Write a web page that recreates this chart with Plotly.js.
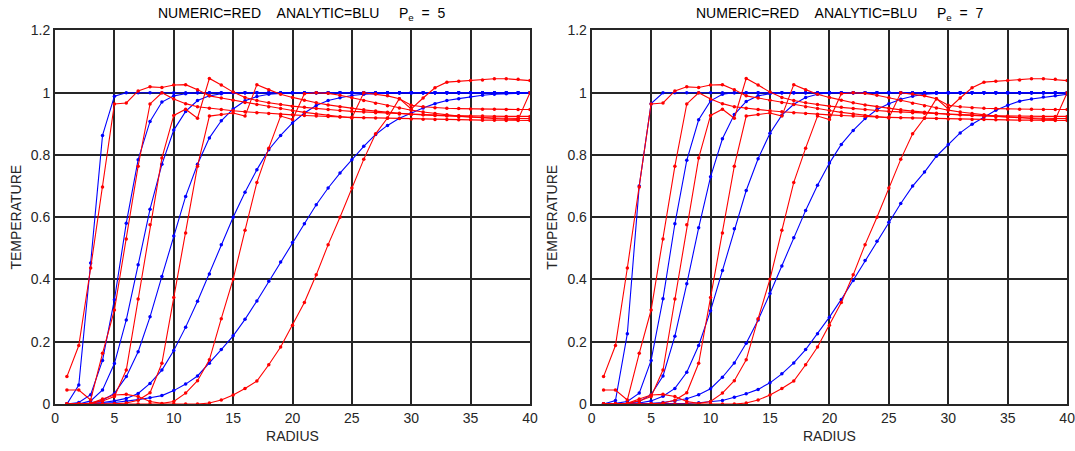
<!DOCTYPE html>
<html>
<head>
<meta charset="utf-8">
<script src="https://cdn.plot.ly/plotly-3.0.1.min.js"></script>
<style>html,body{margin:0;padding:0;background:#fff}#chart{width:1075px;height:451px}</style>
</head>
<body>
<div id="chart"></div>
<script>
const radius = [1,2,3,4,5,6,7,8,9,10,11,12,13,14,15,16,17,18,19,20,21,22,23,24,25,26,27,28,29,30,31,32,33,34,35,36,37,38,39,40];

// Numeric (red) profiles, identical in both panels
const num1 = [0.088,0.188,0.437,0.697,0.964,0.967,1.006,1.019,1.017,1.025,1.026,1.010,0.990,0.983,0.976,0.969,0.962,0.955,0.949,0.943,0.937,0.932,0.927,0.923,0.919,1.000,0.996,0.990,0.981,0.960,0.955,0.952,0.950,0.949,0.948,0.947,0.947,0.946,0.946,0.946];
const num2 = [0.045,0.045,0.013,0.163,0.302,0.530,0.764,0.964,1.000,0.980,0.965,0.955,0.950,0.946,0.942,0.939,0.936,0.933,0.931,0.929,0.927,0.925,0.924,0.922,0.921,0.920,0.919,0.918,0.917,0.916,0.915,0.914,0.914,0.913,0.913,0.912,0.912,0.911,0.911,0.911];
const num3 = [0,0,0.002,0.010,0.024,0.109,0.337,0.576,0.790,0.927,0.947,0.918,1.046,1.025,1.002,0.985,0.975,0.968,0.962,0.957,0.953,0.949,0.946,0.943,0.940,0.938,0.936,0.934,0.932,0.930,0.929,0.928,0.927,0.926,0.925,0.925,0.924,0.924,0.924,0.924];
const num4 = [0,0,0,0,0.001,0.003,0.012,0.036,0.131,0.342,0.549,0.764,0.925,0.930,0.935,0.925,1.026,1.010,0.995,0.985,0.976,0.968,0.961,0.955,0.950,0.945,0.941,0.937,0.934,0.931,0.929,0.927,0.925,0.923,0.922,0.920,0.919,0.918,0.917,0.917];
const num5 = [0,0,0.002,0.016,0.029,0.031,0.024,0.008,0.002,0.008,0.035,0.075,0.142,0.274,0.401,0.558,0.712,0.822,0.925,0.914,0.997,1.000,0.998,0.992,0.984,0.975,0.966,0.958,0.951,0.944,0.938,0.933,0.929,0.925,0.922,0.919,0.917,0.915,0.914,1.000];
const num6 = [0,0,0,0,0,0,0,0,0,0,0,0,0.003,0.013,0.029,0.050,0.074,0.126,0.183,0.253,0.326,0.415,0.512,0.600,0.694,0.786,0.868,0.919,0.981,0.948,0.983,1.016,1.034,1.037,1.039,1.041,1.045,1.045,1.043,1.039];

// Analytic (blue) profiles, Pe = 5
const ana5_1 = [0,0.061,0.453,0.863,0.989,1,1,1,1,1,1,1,1,1,1,1,1,1,1,1,1,1,1,1,1,1,1,1,1,1,1,1,1,1,1,1,1,1,1,1];
const ana5_2 = [0,0.005,0.030,0.140,0.335,0.581,0.785,0.908,0.970,0.990,0.997,1,1,1,1,1,1,1,1,1,1,1,1,1,1,1,1,1,1,1,1,1,1,1,1,1,1,1,1,1];
const ana5_3 = [0,0,0.010,0.045,0.130,0.270,0.447,0.626,0.770,0.880,0.940,0.975,0.990,0.997,1,1,1,1,1,1,1,1,1,1,1,1,1,1,1,1,1,1,1,1,1,1,1,1,1,1];
const ana5_4 = [0,0,0.003,0.012,0.034,0.088,0.168,0.280,0.410,0.540,0.667,0.770,0.855,0.910,0.948,0.974,0.988,0.995,0.998,1,1,1,1,1,1,1,1,1,1,1,1,1,1,1,1,1,1,1,1,1];
const ana5_5 = [0,0,0.002,0.005,0.010,0.018,0.034,0.066,0.109,0.172,0.247,0.330,0.418,0.512,0.600,0.680,0.753,0.817,0.863,0.903,0.935,0.959,0.975,0.984,0.991,0.995,0.997,0.999,1,1,1,1,1,1,1,1,1,1,1,1];
const ana5_6 = [0,0,0,0.002,0.005,0.009,0.014,0.020,0.027,0.043,0.064,0.090,0.131,0.175,0.219,0.272,0.331,0.394,0.456,0.519,0.579,0.640,0.694,0.742,0.785,0.828,0.866,0.895,0.918,0.935,0.951,0.965,0.975,0.981,0.987,0.992,0.995,0.997,0.998,0.999];

// Analytic (blue) profiles, Pe = 7
const ana7_1 = [0,0.011,0.226,0.700,0.965,1,1,1,1,1,1,1,1,1,1,1,1,1,1,1,1,1,1,1,1,1,1,1,1,1,1,1,1,1,1,1,1,1,1,1];
const ana7_2 = [0,0.002,0.008,0.035,0.140,0.338,0.579,0.783,0.913,0.974,0.995,1,1,1,1,1,1,1,1,1,1,1,1,1,1,1,1,1,1,1,1,1,1,1,1,1,1,1,1,1];
const ana7_3 = [0,0,0.002,0.008,0.030,0.090,0.218,0.386,0.566,0.730,0.852,0.930,0.972,0.990,0.997,1,1,1,1,1,1,1,1,1,1,1,1,1,1,1,1,1,1,1,1,1,1,1,1,1];
const ana7_4 = [0,0,0,0.003,0.010,0.025,0.050,0.102,0.188,0.300,0.429,0.563,0.686,0.788,0.870,0.928,0.963,0.985,0.995,1,1,1,1,1,1,1,1,1,1,1,1,1,1,1,1,1,1,1,1,1];
const ana7_5 = [0,0,0,0,0.002,0.005,0.010,0.017,0.030,0.049,0.086,0.132,0.195,0.270,0.355,0.443,0.534,0.622,0.703,0.774,0.834,0.879,0.917,0.946,0.965,0.979,0.989,0.995,0.998,1,1,1,1,1,1,1,1,1,1,1];
const ana7_6 = [0,0,0,0,0,0,0,0.002,0.004,0.007,0.011,0.022,0.033,0.047,0.068,0.097,0.132,0.175,0.226,0.279,0.336,0.397,0.461,0.523,0.584,0.644,0.700,0.745,0.796,0.834,0.871,0.899,0.922,0.944,0.960,0.973,0.980,0.986,0.990,0.995];

const xTicks = [0,5,10,15,20,25,30,35,40];
const yTicks = [0,0.2,0.4,0.6,0.8,1,1.2];
const sp = n => '&nbsp;'.repeat(n);
const titles = ['NUMERIC=RED' + sp(4) + 'ANALYTIC=BLU' + sp(5) + 'P<sub>e</sub>' + sp(2) + '=' + sp(2) + '5',
                'NUMERIC=RED' + sp(4) + 'ANALYTIC=BLU' + sp(5) + 'P<sub>e</sub>' + sp(2) + '=' + sp(2) + '7'];

const numeric = [num1,num2,num3,num4,num5,num6];
const panels = [[ana5_1,ana5_2,ana5_3,ana5_4,ana5_5,ana5_6],[ana7_1,ana7_2,ana7_3,ana7_4,ana7_5,ana7_6]];

const traces = [];
panels.forEach((ana, p) => {
  const xa = p === 0 ? 'x' : 'x2', ya = p === 0 ? 'y' : 'y2';
  ana.forEach(s => traces.push({x: radius, y: s, xaxis: xa, yaxis: ya, type: 'scatter', mode: 'lines+markers',
    line: {color: '#0000ff', width: 1.1}, marker: {color: '#0000ff', size: 3.5}, cliponaxis: true, hoverinfo: 'skip'}));
  numeric.forEach(s => traces.push({x: radius, y: s, xaxis: xa, yaxis: ya, type: 'scatter', mode: 'lines+markers',
    line: {color: '#ff0000', width: 1.1}, marker: {color: '#ff0000', size: 3.5}, cliponaxis: true, hoverinfo: 'skip'}));
});

const font = {family: 'Liberation Sans, Arial, Helvetica, sans-serif', size: 14, color: '#262626'};
function xax(domain) {
  return {domain: domain, range: [0, 40], tickvals: xTicks, ticks: '', showgrid: true, gridcolor: '#262626', gridwidth: 2,
    zeroline: false, showline: true, linecolor: '#262626', linewidth: 2, mirror: true, tickfont: font, ticklabeloverflow: 'allow',
    title: {text: 'RADIUS', font: font, standoff: 6}, automargin: false};
}
function yax(anchor) {
  return {domain: [0.1042, 0.9324], range: [0, 1.2], tickvals: yTicks, ticks: '', showgrid: true, gridcolor: '#262626', gridwidth: 2,
    zeroline: false, showline: true, linecolor: '#262626', linewidth: 2, mirror: true, tickfont: font, anchor: anchor, ticklabeloverflow: 'allow',
    title: {text: 'TEMPERATURE', font: font, standoff: 6}, automargin: false};
}
const layout = {
  width: 1075, height: 451, margin: {l: 0, r: 0, t: 0, b: 0}, showlegend: false,
  paper_bgcolor: '#fff', plot_bgcolor: '#fff', font: font,
  xaxis: Object.assign(xax([0.0512, 0.4930]), {anchor: 'y'}),
  yaxis: yax('x'),
  xaxis2: Object.assign(xax([0.5504, 0.9927]), {anchor: 'y2'}),
  yaxis2: yax('x2'),
  annotations: [
    {text: titles[0], xref: 'paper', yref: 'paper', x: 0.2805, y: 0.970, xanchor: 'center', yanchor: 'middle', showarrow: false, font: {family: font.family, size: 14, color: '#000'}},
    {text: titles[1], xref: 'paper', yref: 'paper', x: 0.7809, y: 0.970, xanchor: 'center', yanchor: 'middle', showarrow: false, font: {family: font.family, size: 14, color: '#000'}}
  ]
};
Plotly.newPlot('chart', traces, layout, {staticPlot: true, displayModeBar: false});
</script>
</body>
</html>
